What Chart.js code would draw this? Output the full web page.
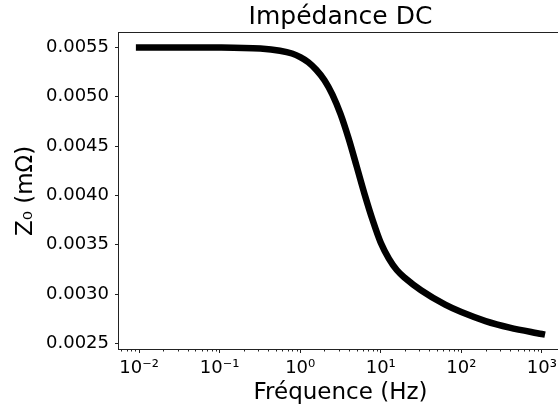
<!DOCTYPE html>
<html>
<head>
<meta charset="utf-8">
<script src="https://cdn.jsdelivr.net/npm/chart.js@4/dist/chart.umd.min.js"></script>
<style>
    html, body { margin: 0; padding: 0; background: #fff; overflow: hidden; }
    #wrap { width: 566px; height: 411px; }
</style>
</head>
<body>
<div id="wrap"><canvas id="impedanceChart"></canvas></div>
<script>
// Values
const frequencies = [0.01, 0.03, 0.1, 0.32, 0.56, 0.79, 1, 1.26, 1.58, 2, 2.51, 3.16, 3.98, 5.01, 6.31, 7.94, 10, 12.6, 15.8, 20, 31.6, 63.1, 100, 200, 398, 1000];
const impedance = [0.005500, 0.005500, 0.005499, 0.005488, 0.005466, 0.005438, 0.005402, 0.005350, 0.005274, 0.005168, 0.005022, 0.004826, 0.004579, 0.004297, 0.004010, 0.003748, 0.003520, 0.003360, 0.003244, 0.003163, 0.003039, 0.002893, 0.002818, 0.002727, 0.002661, 0.002596];

const xDecades = [0.001, 0.01, 0.1, 1, 10, 100, 1000];
const yTicks = [0.0025, 0.0030, 0.0035, 0.0040, 0.0045, 0.0050, 0.0055];

const xMin = 0.005623; // 10^-2.25
const xMax = 1778.3;   // 10^3.25
const yMin = 0.002444;
const yMax = 0.005646;

const superscripts = { '-': '⁻', '0': '⁰', '1': '¹', '2': '²', '3': '³', '4': '⁴', '5': '⁵', '6': '⁶', '7': '⁷', '8': '⁸', '9': '⁹' };

function decadeLabel(value) {
    const exp = Math.round(Math.log10(value));
    return '10' + String(exp).split('').map(c => superscripts[c]).join('');
}

Chart.defaults.font.family = "'DejaVu Sans', sans-serif";
Chart.defaults.color = '#000';

// axes frame on all four sides plus the short minor ticks of the log axis
const framePlugin = {
    id: 'frame',
    afterDraw(chart) {
        const { ctx, chartArea } = chart;
        const xScale = chart.scales.x;
        ctx.save();
        ctx.strokeStyle = '#222';
        ctx.lineWidth = 1;
        xScale.ticks.filter(t => !t.major).forEach(t => {
            const px = Math.round(xScale.getPixelForValue(t.value)) + 0.5;
            ctx.beginPath();
            ctx.moveTo(px, chartArea.bottom);
            ctx.lineTo(px, chartArea.bottom + 2.5);
            ctx.stroke();
        });
        ctx.strokeRect(chartArea.left - 0.5, chartArea.top - 0.5, chartArea.right - chartArea.left + 1, chartArea.bottom - chartArea.top + 1);
        ctx.restore();
    }
};

new Chart(document.getElementById('impedanceChart'), {
    type: 'line',
    data: {
        datasets: [{
            data: frequencies.map((f, i) => ({ x: f, y: impedance[i] })),
            borderColor: '#000',
            borderWidth: 6.5,
            borderCapStyle: 'square',
            cubicInterpolationMode: 'monotone',
            pointRadius: 0,
            fill: false
        }]
    },
    options: {
        responsive: true,
        maintainAspectRatio: false,
        animation: false,
        devicePixelRatio: 1,
        layout: { padding: { left: 0, right: 4, top: 0, bottom: 0 } },
        plugins: {
            legend: { display: false },
            tooltip: { enabled: false },
            title: {
                display: true,
                fullSize: false,
                text: 'Impédance DC',
                color: '#000',
                font: { size: 25, weight: 'normal' },
                padding: { top: 2, bottom: 1 }
            }
        },
        scales: {
            x: {
                type: 'logarithmic',
                min: xMin,
                max: xMax,
                border: { display: false },
                grid: {
                    drawOnChartArea: false,
                    drawTicks: true,
                    tickLength: 4,
                    tickWidth: 1,
                    tickColor: (ctx) => (ctx.tick && ctx.tick.major) ? '#222' : 'rgba(0,0,0,0)'
                },
                afterBuildTicks: (scale) => {
                    const ticks = [];
                    xDecades.forEach(d => {
                        for (let m = 1; m <= 9; m++) {
                            const v = d * m;
                            if (v >= xMin && v <= xMax) ticks.push({ value: v, major: m === 1 });
                        }
                    });
                    scale.ticks = ticks;
                },
                afterFit: (scale) => { scale.height = 62; },
                ticks: {
                    autoSkip: false,
                    maxRotation: 0,
                    minRotation: 0,
                    padding: 5,
                    font: { size: 18 },
                    callback: function (value, index, ticks) {
                        return ticks[index].major ? decadeLabel(value) : '';
                    }
                },
                title: {
                    display: true,
                    text: 'Fréquence (Hz)',
                    font: { size: 23 },
                    padding: { top: 0, bottom: 4 }
                }
            },
            y: {
                type: 'linear',
                min: yMin,
                max: yMax,
                border: { display: false },
                grid: {
                    drawOnChartArea: false,
                    drawTicks: true,
                    tickLength: 4,
                    tickWidth: 1,
                    tickColor: '#222'
                },
                afterBuildTicks: (scale) => {
                    scale.ticks = yTicks.map(v => ({ value: v }));
                },
                afterFit: (scale) => { scale.width = 119; },
                ticks: {
                    padding: 6,
                    font: { size: 18 },
                    callback: (value) => value.toFixed(4)
                },
                title: {
                    display: true,
                    text: 'Z₀ (mΩ)',
                    font: { size: 23 },
                    padding: { top: 12, bottom: 0 }
                }
            }
        }
    },
    plugins: [framePlugin]
});
</script>
</body>
</html>
